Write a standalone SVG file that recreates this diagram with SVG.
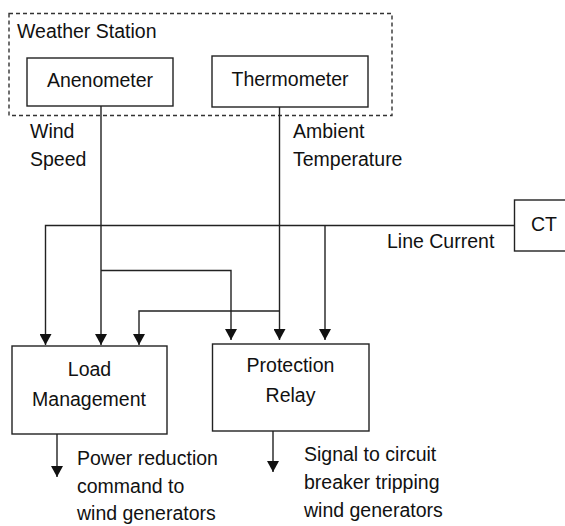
<svg xmlns="http://www.w3.org/2000/svg" width="565" height="526" viewBox="0 0 565 526">
<style>
.box{fill:#fff;stroke:#222;stroke-width:1.4}
.dash{fill:none;stroke:#333;stroke-width:1.4;stroke-dasharray:4 3}
.ln{fill:none;stroke:#222;stroke-width:1.4}
text{font-family:"Liberation Sans",Arial,sans-serif;font-size:19.5px;fill:#111}
.c{text-anchor:middle}
</style>
<defs>
<marker id="ah" viewBox="0 0 11 12" refX="11" refY="6" markerWidth="11" markerHeight="12" markerUnits="userSpaceOnUse" orient="auto">
<path d="M0,0 L11,6 L0,12 z" fill="#111"/>
</marker>
</defs>
<g id="weather-station">
<rect class="dash" x="9" y="13.5" width="383" height="102"/>
<text x="17" y="38">Weather Station</text>
</g>
<g id="anenometer">
<rect class="box" x="27" y="58" width="146" height="48"/>
<text class="c" x="100" y="87">Anenometer</text>
</g>
<g id="thermometer">
<rect class="box" x="212" y="56" width="156" height="51"/>
<text class="c" x="290" y="86">Thermometer</text>
</g>
<g id="ct">
<rect class="box" x="514.5" y="200" width="60" height="51"/>
<text x="531" y="231">CT</text>
</g>
<g id="load-management">
<rect class="box" x="12" y="346" width="155" height="88"/>
<text class="c" x="89.5" y="376">Load</text>
<text class="c" x="89" y="406">Management</text>
</g>
<g id="protection-relay">
<rect class="box" x="212.5" y="344" width="156.5" height="87"/>
<text class="c" x="290.5" y="372">Protection</text>
<text class="c" x="290.5" y="402">Relay</text>
</g>
<g id="connectors">
<path class="ln" d="M101,106 V345" marker-end="url(#ah)"/>
<path class="ln" d="M101,270.5 H231 V340" marker-end="url(#ah)"/>
<path class="ln" d="M279.5,107 V340" marker-end="url(#ah)"/>
<path class="ln" d="M279.5,311 H139 V345" marker-end="url(#ah)"/>
<path class="ln" d="M514.5,225.5 H45.5 V345" marker-end="url(#ah)"/>
<path class="ln" d="M325,225.5 V340" marker-end="url(#ah)"/>
<path class="ln" d="M57,434 V477" marker-end="url(#ah)"/>
<path class="ln" d="M273,431 V472" marker-end="url(#ah)"/>
</g>
<g id="labels">
<text x="30" y="138">Wind</text>
<text x="30" y="166">Speed</text>
<text x="293" y="138">Ambient</text>
<text x="293" y="166">Temperature</text>
<text x="387" y="248">Line Current</text>
<text x="77" y="465">Power reduction</text>
<text x="77" y="493">command to</text>
<text x="77" y="520">wind generators</text>
<text x="304" y="461">Signal to circuit</text>
<text x="304" y="489">breaker tripping</text>
<text x="304" y="517">wind generators</text>
</g>
</svg>
